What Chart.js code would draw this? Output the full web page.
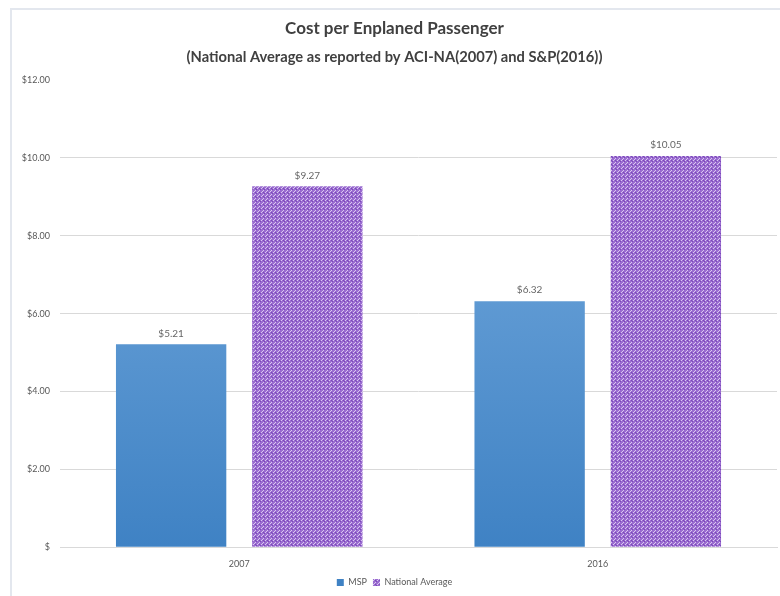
<!DOCTYPE html>
<html>
<head>
<meta charset="utf-8">
<script src="https://cdn.jsdelivr.net/npm/chart.js@4/dist/chart.umd.min.js"></script>
<style>
  html, body { margin: 0; padding: 0; background: #fff; overflow: hidden; }
  #box {
    position: absolute; left: 10px; top: 8px; width: 772px; height: 596px;
    border: 2px solid #e3e7ee; box-sizing: border-box;
  }
</style>
</head>
<body>
<div id="box"><canvas id="chart"></canvas></div>
<script>
const years = ['2007', '2016'];
const mspCost = [5.21, 6.32];
const nationalAvg = [9.27, 10.05];
const yTicks = [0, 2, 4, 6, 8, 10, 12];

// purple textured fill like the Excel pattern
function makePattern() {
    const c = document.createElement('canvas');
    c.width = 4;
    c.height = 4;
    const g = c.getContext('2d');
    g.fillStyle = '#9a6cd0';
    g.fillRect(0, 0, 4, 4);
    g.fillStyle = '#d9c6f0';
    g.fillRect(3, 0, 1, 1);
    g.fillRect(2, 1, 1, 1);
    g.fillRect(1, 2, 1, 1);
    g.fillStyle = '#7a48b8';
    g.fillRect(0, 3, 1, 1);
    g.fillRect(3, 2, 1, 1);
    return g.createPattern(c, 'repeat');
}

function blueFill(ctx) {
    const area = ctx.chart.chartArea;
    if (!area) return '#5b9bd5';
    const grad = ctx.chart.ctx.createLinearGradient(0, area.top, 0, area.bottom);
    grad.addColorStop(0, '#7aaee0');
    grad.addColorStop(1, '#3f82c4');
    return grad;
}

const valueLabels = {
    id: 'valueLabels',
    afterDatasetsDraw(chart) {
        const ctx = chart.ctx;
        ctx.save();
        ctx.font = '10px Lato';
        ctx.fillStyle = '#666666';
        ctx.textAlign = 'center';
        ctx.textBaseline = 'bottom';
        chart.data.datasets.forEach((ds, i) => {
            chart.getDatasetMeta(i).data.forEach((bar, j) => {
                ctx.fillText('$' + ds.data[j].toFixed(2), bar.x, bar.y - 6);
            });
        });
        ctx.restore();
    }
};

new Chart(document.getElementById('chart'), {
    type: 'bar',
    data: {
        labels: years,
        datasets: [
            {
                label: 'MSP',
                data: mspCost,
                backgroundColor: blueFill,
                borderWidth: 0,
            },
            {
                label: 'National Average',
                data: nationalAvg,
                backgroundColor: makePattern(),
                borderWidth: 0,
            },
        ],
    },
    options: {
        responsive: true,
        maintainAspectRatio: false,
        animation: false,
        categoryPercentage: 0.76,
        barPercentage: 0.81,
        layout: { padding: { left: 0, right: 3, top: 8, bottom: 5 } },
        plugins: {
            title: {
                display: true,
                text: 'Cost per Enplaned Passenger',
                color: '#404040',
                font: { family: 'Lato', size: 17, weight: 'bold' },
                padding: { top: 0, bottom: 10 },
            },
            subtitle: {
                display: true,
                text: '(National Average as reported by ACI-NA(2007) and S&P(2016))',
                color: '#404040',
                font: { family: 'Lato', size: 14.7, weight: 'bold' },
                padding: { top: 0, bottom: 14 },
            },
            legend: {
                position: 'bottom',
                labels: {
                    boxWidth: 7,
                    boxHeight: 7,
                    padding: 6,
                    color: '#595959',
                    font: { family: 'Lato', size: 9 },
                },
            },
            tooltip: { enabled: false },
        },
        scales: {
            x: {
                grid: { display: false },
                border: { color: '#d9d9d9' },
                ticks: { color: '#595959', font: { family: 'Lato', size: 9 }, padding: 3 },
            },
            y: {
                min: 0,
                max: 12,
                afterBuildTicks(axis) {
                    axis.ticks = yTicks.map(v => ({ value: v }));
                },
                afterFit(axis) { axis.width = 48; },
                grid: {
                    color: ctx => ctx.tick && ctx.tick.value === 12 ? 'rgba(0,0,0,0)' : '#d9d9d9',
                    drawTicks: false,
                },
                border: { display: false },
                ticks: {
                    color: '#595959',
                    font: { family: 'Lato', size: 9 },
                    padding: 10,
                    callback: v => v === 0 ? '$' : '$' + v.toFixed(2),
                },
            },
        },
    },
    plugins: [valueLabels],
});
</script>
</body>
</html>
